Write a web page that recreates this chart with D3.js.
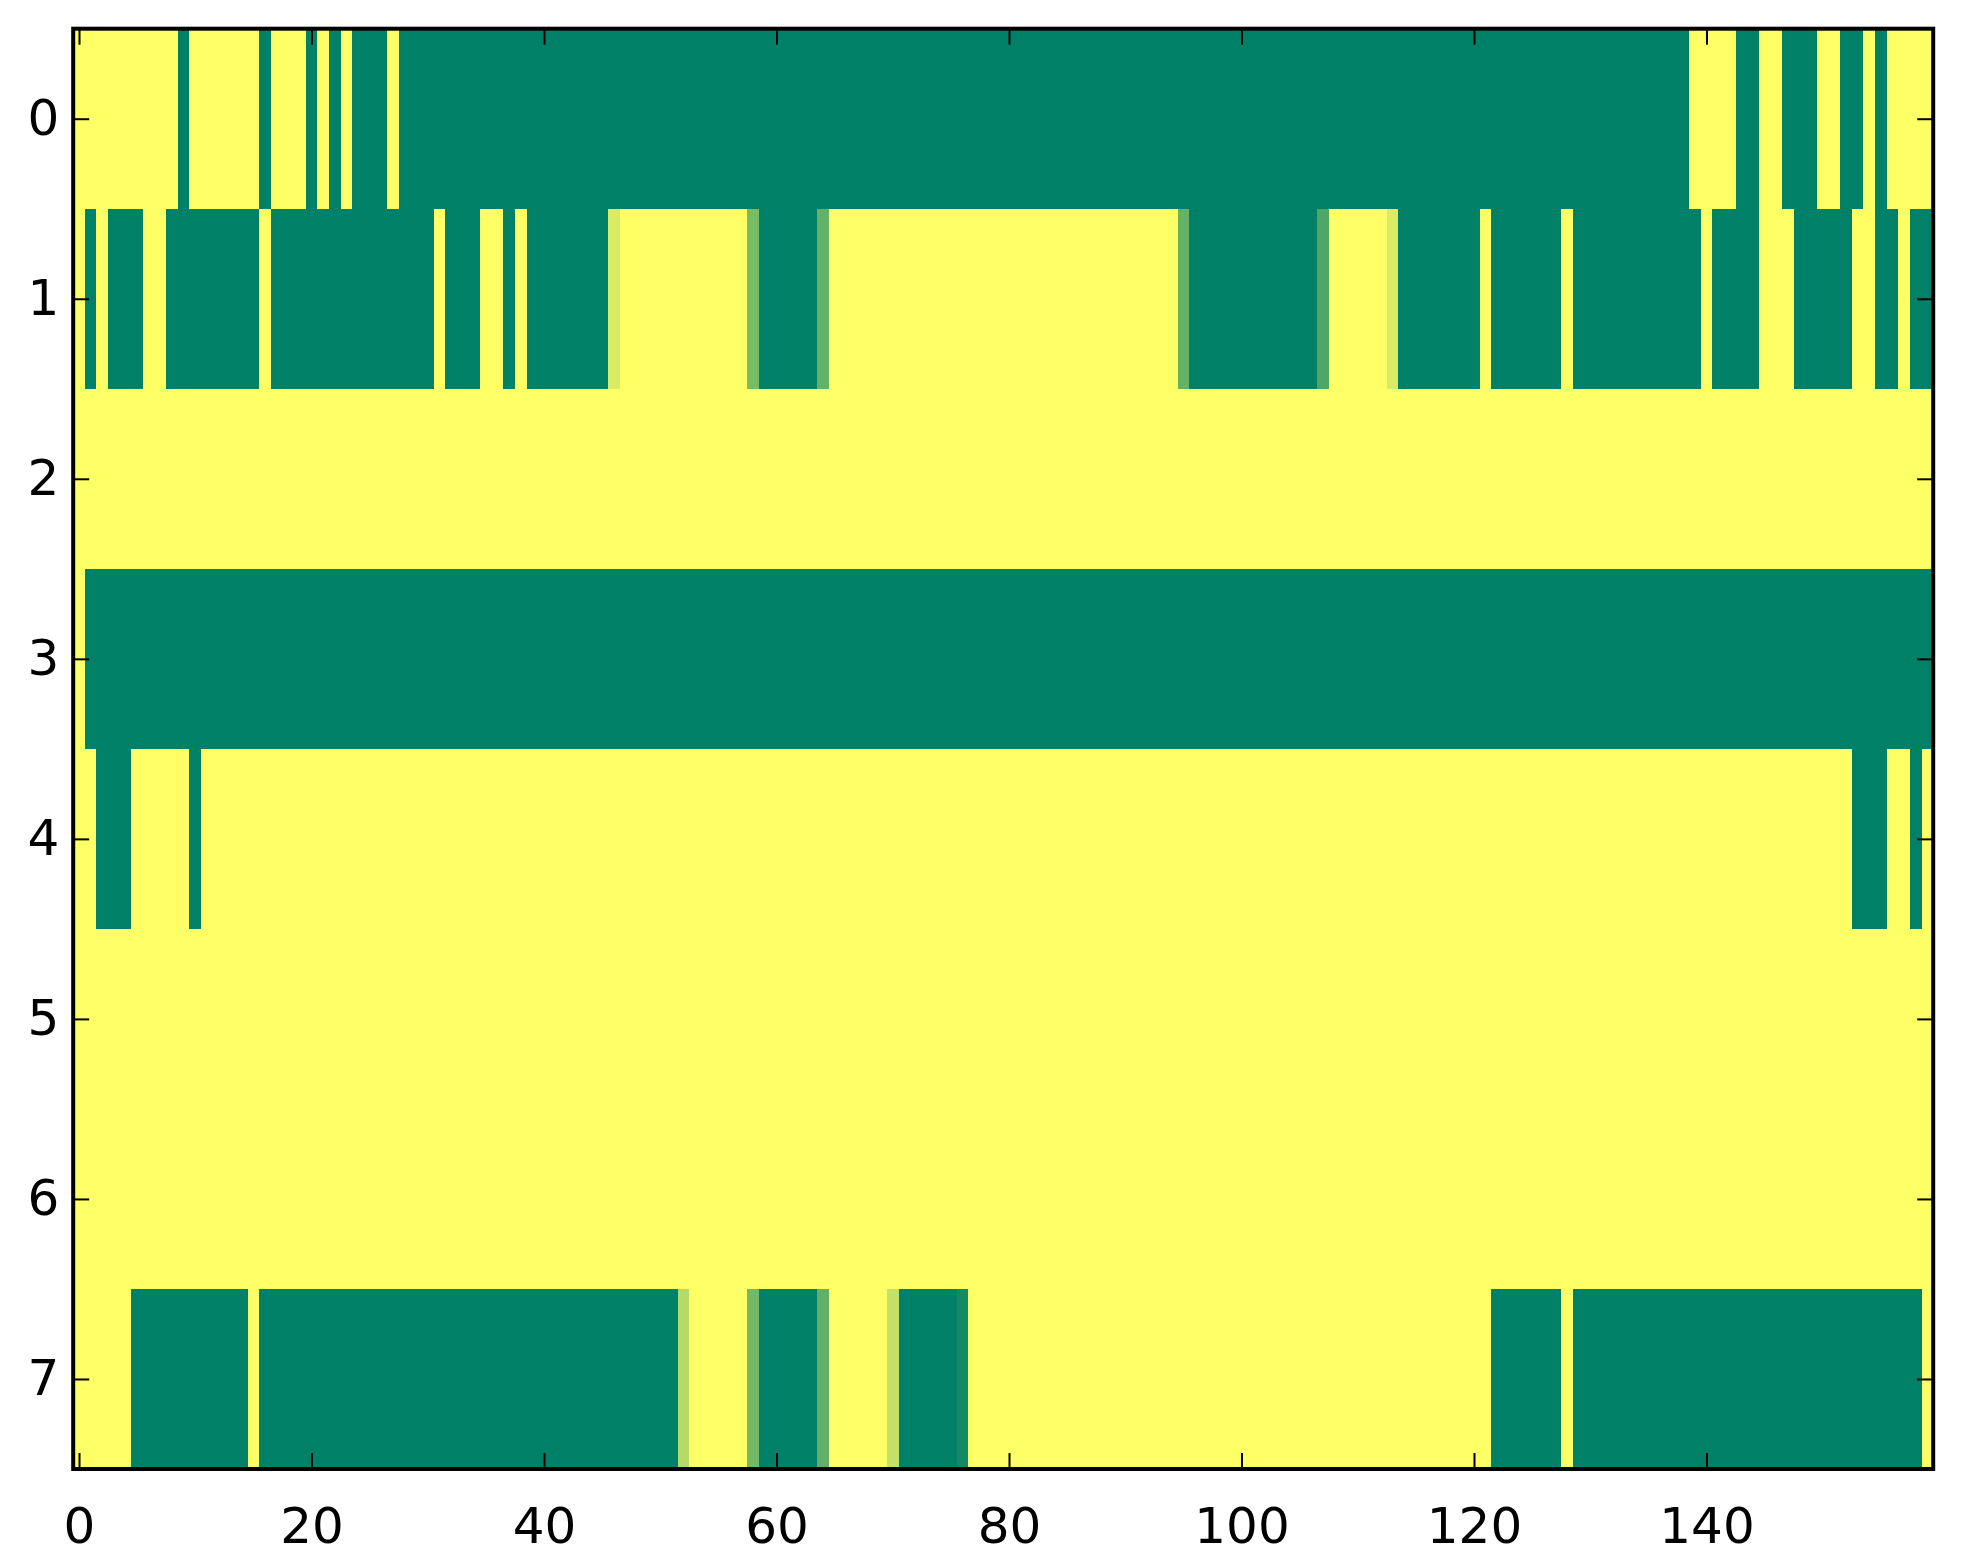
<!DOCTYPE html>
<html>
<head>
<meta charset="utf-8">
<script src="https://cdn.jsdelivr.net/npm/d3@7"></script>
<style>
  body { margin: 0; background: #fff; }
  .tick text { font-family: "DejaVu Sans", sans-serif; font-size: 50px; fill: #000; }
</style>
</head>
<body>
<svg id="chart"></svg>
<script>
var width = 1963;
var height = 1564;

// image values, one array per row (0 = green, 1 = yellow)
var row0 = [
  1,1,1,1,1,1,1,1,1,0, 1,1,1,1,1,1,0,1,1,1,
  0,1,0,1,0,0,0,1,0,0, 0,0,0,0,0,0,0,0,0,0,
  0,0,0,0,0,0,0,0,0,0, 0,0,0,0,0,0,0,0,0,0,
  0,0,0,0,0,0,0,0,0,0, 0,0,0,0,0,0,0,0,0,0,
  0,0,0,0,0,0,0,0,0,0, 0,0,0,0,0,0,0,0,0,0,
  0,0,0,0,0,0,0,0,0,0, 0,0,0,0,0,0,0,0,0,0,
  0,0,0,0,0,0,0,0,0,0, 0,0,0,0,0,0,0,0,0,1,
  1,1,1,0,0,1,1,0,0,0, 1,1,0,0,1,0,1,1,1,1
];
var row1 = [
  1,0,1,0,0,0,1,1,0,0, 0,0,0,0,0,0,1,0,0,0,
  0,0,0,0,0,0,0,0,0,0, 0,1,0,0,0,1,1,0,1,0,
  0,0,0,0,0,0,0.85,1,1,1, 1,1,1,1,1,1,1,1,0.47,0,
  0,0,0,0,0.39,1,1,1,1,1, 1,1,1,1,1,1,1,1,1,1,
  1,1,1,1,1,1,1,1,1,1, 1,1,1,1,1,0.39,0,0,0,0,
  0,0,0,0,0,0,0,0.31,1,1, 1,1,1,0.85,0,0,0,0,0,0,
  0,1,0,0,0,0,0,0,1,0, 0,0,0,0,0,0,0,0,0,0,
  1,0,0,0,0,1,1,1,0,0, 0,0,0,1,1,0,0,1,0,0
];
var row2 = [
  1,1,1,1,1,1,1,1,1,1, 1,1,1,1,1,1,1,1,1,1,
  1,1,1,1,1,1,1,1,1,1, 1,1,1,1,1,1,1,1,1,1,
  1,1,1,1,1,1,1,1,1,1, 1,1,1,1,1,1,1,1,1,1,
  1,1,1,1,1,1,1,1,1,1, 1,1,1,1,1,1,1,1,1,1,
  1,1,1,1,1,1,1,1,1,1, 1,1,1,1,1,1,1,1,1,1,
  1,1,1,1,1,1,1,1,1,1, 1,1,1,1,1,1,1,1,1,1,
  1,1,1,1,1,1,1,1,1,1, 1,1,1,1,1,1,1,1,1,1,
  1,1,1,1,1,1,1,1,1,1, 1,1,1,1,1,1,1,1,1,1
];
var row3 = [
  1,0,0,0,0,0,0,0,0,0, 0,0,0,0,0,0,0,0,0,0,
  0,0,0,0,0,0,0,0,0,0, 0,0,0,0,0,0,0,0,0,0,
  0,0,0,0,0,0,0,0,0,0, 0,0,0,0,0,0,0,0,0,0,
  0,0,0,0,0,0,0,0,0,0, 0,0,0,0,0,0,0,0,0,0,
  0,0,0,0,0,0,0,0,0,0, 0,0,0,0,0,0,0,0,0,0,
  0,0,0,0,0,0,0,0,0,0, 0,0,0,0,0,0,0,0,0,0,
  0,0,0,0,0,0,0,0,0,0, 0,0,0,0,0,0,0,0,0,0,
  0,0,0,0,0,0,0,0,0,0, 0,0,0,0,0,0,0,0,0,0
];
var row4 = [
  1,1,0,0,0,1,1,1,1,1, 0,1,1,1,1,1,1,1,1,1,
  1,1,1,1,1,1,1,1,1,1, 1,1,1,1,1,1,1,1,1,1,
  1,1,1,1,1,1,1,1,1,1, 1,1,1,1,1,1,1,1,1,1,
  1,1,1,1,1,1,1,1,1,1, 1,1,1,1,1,1,1,1,1,1,
  1,1,1,1,1,1,1,1,1,1, 1,1,1,1,1,1,1,1,1,1,
  1,1,1,1,1,1,1,1,1,1, 1,1,1,1,1,1,1,1,1,1,
  1,1,1,1,1,1,1,1,1,1, 1,1,1,1,1,1,1,1,1,1,
  1,1,1,1,1,1,1,1,1,1, 1,1,1,0,0,0,1,1,0,1
];
var row5 = [
  1,1,1,1,1,1,1,1,1,1, 1,1,1,1,1,1,1,1,1,1,
  1,1,1,1,1,1,1,1,1,1, 1,1,1,1,1,1,1,1,1,1,
  1,1,1,1,1,1,1,1,1,1, 1,1,1,1,1,1,1,1,1,1,
  1,1,1,1,1,1,1,1,1,1, 1,1,1,1,1,1,1,1,1,1,
  1,1,1,1,1,1,1,1,1,1, 1,1,1,1,1,1,1,1,1,1,
  1,1,1,1,1,1,1,1,1,1, 1,1,1,1,1,1,1,1,1,1,
  1,1,1,1,1,1,1,1,1,1, 1,1,1,1,1,1,1,1,1,1,
  1,1,1,1,1,1,1,1,1,1, 1,1,1,1,1,1,1,1,1,1
];
var row6 = [
  1,1,1,1,1,1,1,1,1,1, 1,1,1,1,1,1,1,1,1,1,
  1,1,1,1,1,1,1,1,1,1, 1,1,1,1,1,1,1,1,1,1,
  1,1,1,1,1,1,1,1,1,1, 1,1,1,1,1,1,1,1,1,1,
  1,1,1,1,1,1,1,1,1,1, 1,1,1,1,1,1,1,1,1,1,
  1,1,1,1,1,1,1,1,1,1, 1,1,1,1,1,1,1,1,1,1,
  1,1,1,1,1,1,1,1,1,1, 1,1,1,1,1,1,1,1,1,1,
  1,1,1,1,1,1,1,1,1,1, 1,1,1,1,1,1,1,1,1,1,
  1,1,1,1,1,1,1,1,1,1, 1,1,1,1,1,1,1,1,1,1
];
var row7 = [
  1,1,1,1,1,0,0,0,0,0, 0,0,0,0,0,1,0,0,0,0,
  0,0,0,0,0,0,0,0,0,0, 0,0,0,0,0,0,0,0,0,0,
  0,0,0,0,0,0,0,0,0,0, 0,0,0.71,1,1,1,1,1,0.45,0,
  0,0,0,0,0.38,1,1,1,1,1, 0.76,0,0,0,0,0,0.075,1,1,1,
  1,1,1,1,1,1,1,1,1,1, 1,1,1,1,1,1,1,1,1,1,
  1,1,1,1,1,1,1,1,1,1, 1,1,1,1,1,1,1,1,1,1,
  1,1,0,0,0,0,0,0,1,0, 0,0,0,0,0,0,0,0,0,0,
  0,0,0,0,0,0,0,0,0,0, 0,0,0,0,0,0,0,0,0,1
];

var rows = [row0, row1, row2, row3, row4, row5, row6, row7];
var xTicks = [0, 20, 40, 60, 80, 100, 120, 140];
var yTicks = [0, 1, 2, 3, 4, 5, 6, 7];

var plotLeft = 73.2, plotRight = 1933.2, plotTop = 28.7, plotBottom = 1469;

var x = d3.scaleLinear().domain([-0.5, 159.5]).range([plotLeft, plotRight]);
var y = d3.scaleLinear().domain([-0.5, 7.5]).range([plotTop, plotBottom]);

// matplotlib "summer" colormap
var color = d3.scaleLinear().domain([0, 1])
  .range(["#008066", "#ffff66"])
  .interpolate(d3.interpolateRgb);

var svg = d3.select("#chart")
  .attr("width", width)
  .attr("height", height);

var cells = [];
rows.forEach(function(row, r) {
  row.forEach(function(v, c) {
    cells.push({ r: r, c: c, v: v });
  });
});

svg.append("g")
  .selectAll("rect")
  .data(cells)
  .enter().append("rect")
  .attr("x", function(d) { return x(d.c - 0.5); })
  .attr("y", function(d) { return y(d.r - 0.5); })
  .attr("width", function(d) { return x(d.c + 0.5) - x(d.c - 0.5) + 0.6; })
  .attr("height", function(d) { return y(d.r + 0.5) - y(d.r - 0.5) + 0.6; })
  .attr("fill", function(d) { return color(d.v); })
  .attr("shape-rendering", "crispEdges");

function styleAxis(g) {
  g.select(".domain").remove();
  g.selectAll(".tick line").attr("stroke", "#000").attr("stroke-width", 2);
}

svg.append("g")
  .attr("transform", "translate(0," + plotBottom + ")")
  .call(d3.axisBottom(x).tickValues(xTicks).tickSizeInner(-16).tickSizeOuter(0).tickPadding(38))
  .call(styleAxis);

svg.append("g")
  .attr("transform", "translate(0," + plotTop + ")")
  .call(d3.axisTop(x).tickValues(xTicks).tickSizeInner(-16).tickSizeOuter(0).tickFormat(""))
  .call(styleAxis);

svg.append("g")
  .attr("transform", "translate(" + plotLeft + ",0)")
  .call(d3.axisLeft(y).tickValues(yTicks).tickSizeInner(-16).tickSizeOuter(0).tickPadding(14))
  .call(styleAxis);

svg.append("g")
  .attr("transform", "translate(" + plotRight + ",0)")
  .call(d3.axisRight(y).tickValues(yTicks).tickSizeInner(-16).tickSizeOuter(0).tickFormat(""))
  .call(styleAxis);

svg.selectAll(".tick text").attr("font-family", null).attr("font-size", null);

// frame
svg.append("rect")
  .attr("x", plotLeft)
  .attr("y", plotTop)
  .attr("width", plotRight - plotLeft)
  .attr("height", plotBottom - plotTop)
  .attr("fill", "none")
  .attr("stroke", "#000")
  .attr("stroke-width", 4);
</script>
</body>
</html>
